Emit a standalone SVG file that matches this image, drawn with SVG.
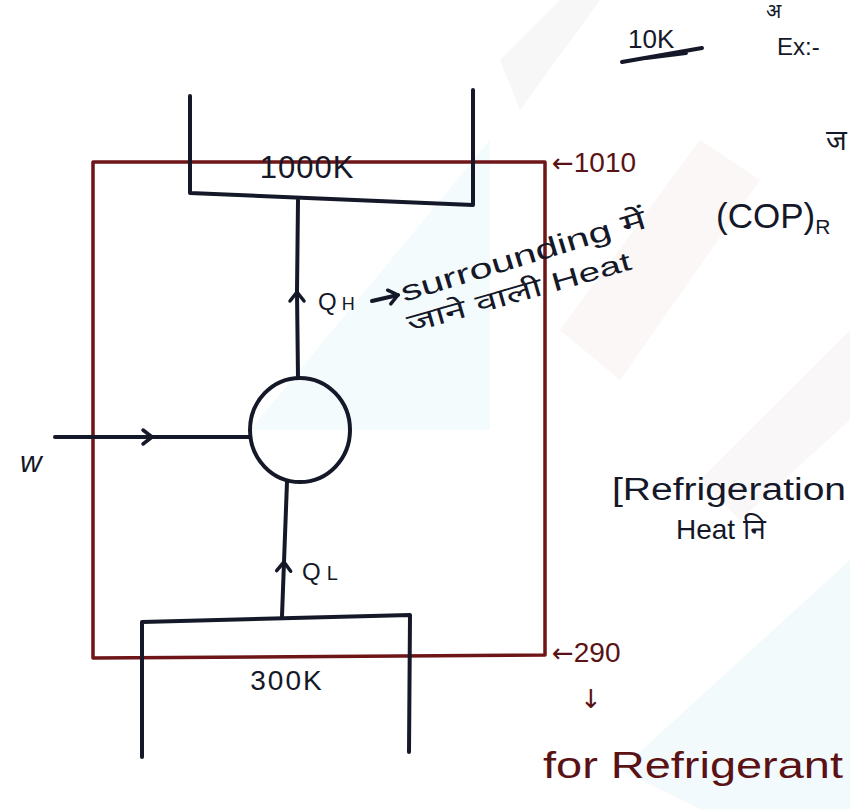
<svg xmlns="http://www.w3.org/2000/svg" width="850" height="809" viewBox="0 0 850 809">
<defs>
<style>
.ink{fill:none;stroke:#141828;stroke-width:4;stroke-linecap:round;stroke-linejoin:round}
.red{fill:none;stroke:#6e1518;stroke-width:3.5;stroke-linecap:round;stroke-linejoin:round}
.t{font-family:"Liberation Sans","Noto Sans","Noto Sans Devanagari","Lohit Devanagari",sans-serif;fill:#141828}
.tr{font-family:"Liberation Sans","Noto Sans","Noto Sans Devanagari","Lohit Devanagari",sans-serif;fill:#5a1214}
.arr{font-family:"DejaVu Sans",sans-serif}
</style>
<marker id="chev" viewBox="-12 -10 16 20" markerWidth="16" markerHeight="20" refX="0" refY="0" orient="auto" markerUnits="userSpaceOnUse">
<path d="M-9,-7 L0,0 L-9,7" fill="none" stroke="#141828" stroke-width="3.5" stroke-linecap="round" stroke-linejoin="round"/>
</marker>
</defs>
<rect width="850" height="809" fill="#ffffff"/>
<g id="watermark" opacity="0.45">
<polygon points="250,430 490,140 490,430" fill="#e6f7fb"/>
<polygon points="500,60 560,0 600,0 520,110" fill="#eeeeee"/>
<polygon points="560,330 700,140 760,180 620,380" fill="#f7eeee"/>
<polygon points="620,770 850,560 850,809 700,809" fill="#e4f5fa"/>
<polygon points="700,480 850,330 850,420 740,520" fill="#f3eef0"/>
</g>
<g id="boundary">
<path class="red" d="M93,162 L545,162 L545,655 L93,658 Z"/>
</g>
<g id="hot-reservoir">
<path class="ink" d="M190,96 L190,193 L473,205 L473,90"/>
<text class="t" x="307" y="178" font-size="31" text-anchor="middle" letter-spacing="1">1000K</text>
</g>
<g id="cold-reservoir">
<path class="ink" d="M142,757 L142,622 L410,615 L409,752"/>
<text class="t" x="287" y="690" font-size="28" text-anchor="middle" letter-spacing="2">300K</text>
</g>
<g id="refrigerator">
<ellipse class="ink" cx="300" cy="430" rx="50" ry="52"/>
</g>
<g id="connectors">
<path class="ink" d="M298,378 L297,292 L298,200" marker-mid="url(#chev)"/>
<path class="ink" d="M282,616 L284,562 L287,482" marker-mid="url(#chev)"/>
<path class="ink" d="M55,437 L152,437 L249,437" marker-mid="url(#chev)"/>
<path class="ink" d="M372,301 L398,295" stroke-width="3" marker-end="url(#chev)"/>
</g>
<g id="labels">
<text class="t" x="318" y="310" font-size="24">Q<tspan font-size="18" dx="5">H</tspan></text>
<text class="t" x="302" y="580" font-size="24">Q<tspan font-size="20" dx="6">L</tspan></text>
<text class="t" x="20" y="472" font-size="30" font-style="italic">w</text>
<text class="t" transform="translate(404,302) rotate(-17)" font-size="28" textLength="255" lengthAdjust="spacingAndGlyphs">surrounding में</text>
<text class="t" transform="translate(410,333) rotate(-16)" font-size="26" textLength="232" lengthAdjust="spacingAndGlyphs">जाने वाली Heat</text>
<text class="tr" x="552" y="172" font-size="28"><tspan class="arr" font-size="26">←</tspan>1010</text>
<text class="tr" x="552" y="662" font-size="28"><tspan class="arr" font-size="26">←</tspan>290</text>
<text class="tr arr" x="580" y="708" font-size="26">↓</text>
<text class="tr" x="543" y="778" font-size="36" textLength="300" lengthAdjust="spacingAndGlyphs">for Refrigerant</text>
<text class="t" x="628" y="48" font-size="26">10K</text>
<path class="ink" d="M622,62 L702,48 M646,58 L686,53" stroke-width="3"/>
<text class="t" x="777" y="55" font-size="24">Ex:-</text>
<text class="t" x="766" y="18" font-size="20">अ</text>
<text class="t" x="826" y="150" font-size="28">ज</text>
<text class="t" x="716" y="228" font-size="35">(COP)<tspan font-size="21" dy="6">R</tspan></text>
<text class="t" x="612" y="500" font-size="31" textLength="234" lengthAdjust="spacingAndGlyphs">[Refrigeration</text>
<text class="t" x="676" y="539" font-size="28">Heat नि</text>
</g>
</svg>
